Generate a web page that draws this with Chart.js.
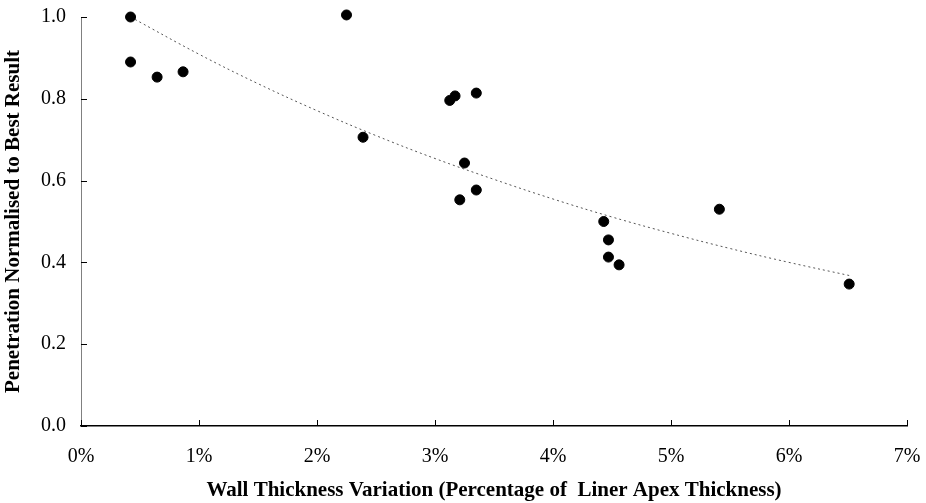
<!DOCTYPE html>
<html>
<head>
<meta charset="utf-8">
<script src="https://cdn.jsdelivr.net/npm/chart.js@4/dist/chart.umd.min.js"></script>
<style>
html,body{margin:0;padding:0;background:#fff;}
#wrap{width:926px;height:503px;position:relative;}
</style>
</head>
<body>
<div id="wrap"><canvas id="c"></canvas></div>
<script>
// wall thickness variation (%) vs normalised penetration
const wallVar=[0.42,0.42,0.645,0.865,2.25,2.39,3.125,3.17,3.35,3.25,3.35,3.21,4.43,4.47,4.47,4.56,5.41,6.51];
const penNorm=[1.00,0.89,0.853,0.866,1.005,0.706,0.796,0.807,0.814,0.643,0.577,0.553,0.50,0.455,0.413,0.394,0.53,0.347];
// trendline
const trendX=[0.42,1,1.5,2,2.5,3,3.5,4,4.5,5,5.5,6,6.51];
const trendY=[1.00,0.909,0.837,0.771,0.71,0.654,0.603,0.555,0.511,0.471,0.434,0.40,0.368];
const xTicks=[0,1,2,3,4,5,6,7];
const yTicks=[0,0.2,0.4,0.6,0.8,1.0];

const serif='"Liberation Serif","Times New Roman",serif';

// Excel style inside tick marks
const insideTicks={id:'insideTicks',afterDatasetsDraw(chart){
  const {ctx,chartArea:a,scales:{x,y}}=chart;
  ctx.save();ctx.strokeStyle='#000';ctx.lineWidth=1;
  ctx.beginPath();
  xTicks.forEach(v=>{const px=Math.round(x.getPixelForValue(v))+0.5;ctx.moveTo(px,a.bottom);ctx.lineTo(px,a.bottom-6);});
  yTicks.forEach(v=>{const py=Math.round(y.getPixelForValue(v))+0.5;ctx.moveTo(a.left,py);ctx.lineTo(a.left+6,py);});
  ctx.stroke();ctx.restore();
}};

new Chart(document.getElementById('c'),{
  type:'scatter',
  data:{datasets:[
    {data:wallVar.map((v,i)=>({x:v,y:penNorm[i]})),backgroundColor:'#000',borderColor:'#000',pointRadius:5,pointHoverRadius:5,clip:false,order:1},
    {type:'line',data:trendX.map((v,i)=>({x:v,y:trendY[i]})),borderColor:'#555',borderWidth:1,borderDash:[2,3],pointRadius:0,fill:false,tension:0.4,clip:false,order:2}
  ]},
  options:{
    responsive:true,maintainAspectRatio:false,animation:false,
    layout:{padding:{top:17,right:19,left:0,bottom:0}},
    plugins:{legend:{display:false},tooltip:{enabled:false}},
    scales:{
      x:{type:'linear',min:0,max:7,
        afterFit(s){s.height=77;s.paddingLeft=0;s.paddingRight=0;},
        afterBuildTicks(s){s.ticks=xTicks.map(v=>({value:v}));},
        grid:{display:true,drawOnChartArea:false,drawTicks:false},
        border:{color:'#000',width:1.5},
        ticks:{padding:19,color:'#000',font:{family:serif,size:20},callback:v=>v+'%',maxRotation:0},
        title:{display:true,text:'Wall Thickness Variation (Percentage of  Liner Apex Thickness)',color:'#000',font:{family:serif,size:21,weight:'bold'},padding:{top:0,bottom:0}}
      },
      y:{type:'linear',min:0,max:1,
        afterFit(s){s.width=81;s.paddingTop=0;s.paddingBottom=0;},
        afterBuildTicks(s){s.ticks=yTicks.map(v=>({value:v}));},
        grid:{display:true,drawOnChartArea:false,drawTicks:false},
        border:{color:'#808080',width:1},
        ticks:{padding:15,color:'#000',font:{family:serif,size:20},callback:v=>v.toFixed(1)},
        title:{display:true,text:'Penetration Normalised to Best Result',color:'#000',font:{family:serif,size:21,weight:'bold'},padding:{top:1,bottom:0}}
      }
    }
  },
  plugins:[insideTicks]
});
</script>
</body>
</html>
